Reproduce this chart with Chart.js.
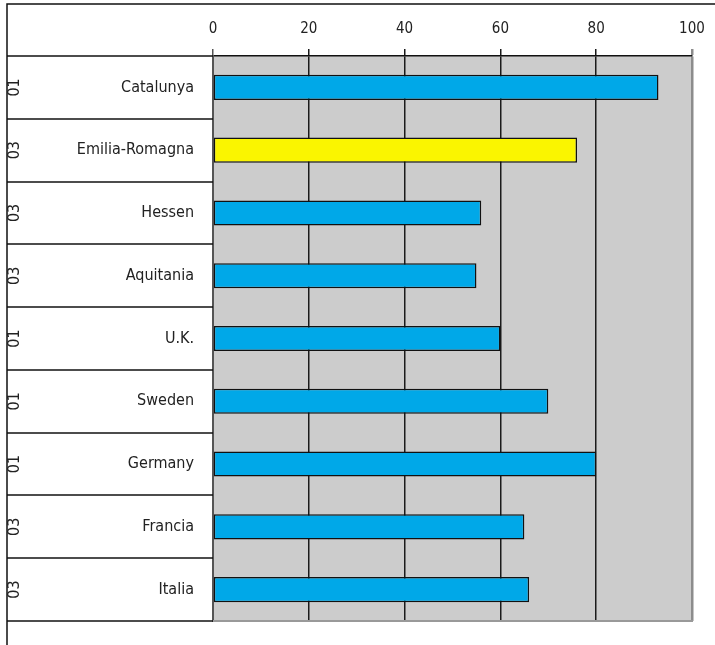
<!DOCTYPE html>
<html>
<head>
<meta charset="utf-8">
<script src="https://cdn.jsdelivr.net/npm/chart.js@4"></script>
<style>
  body { margin: 0; background: #fff; }
  #wrap { width: 715px; height: 645px; }
</style>
</head>
<body>
<div id="wrap"><canvas id="chart" width="715" height="645"></canvas></div>
<script>
const regions = ['Catalunya', 'Emilia-Romagna', 'Hessen', 'Aquitania', 'U.K.', 'Sweden', 'Germany', 'Francia', 'Italia'];
const years = ['01', '03', '03', '03', '01', '01', '01', '03', '03'];
const values = [93, 76, 56, 55, 60, 70, 80, 65, 66];
const xTicks = [0, 20, 40, 60, 80, 100];

const FONT = '"DejaVu Sans Condensed", "Liberation Sans Narrow", "Roboto", sans-serif';
const barColors = regions.map(r => r === 'Emilia-Romagna' ? '#faf500' : '#00a8e8');

// no extra label padding, so layout.padding alone places the plot
function noPad(scale) {
  scale.paddingTop = 0;
  scale.paddingBottom = 0;
  scale.paddingLeft = 0;
  scale.paddingRight = 0;
}

// grey plot area, left table lines and the year column
const tablePlugin = {
  id: 'table',
  beforeDraw(chart) {
    const { ctx, chartArea: a } = chart;
    ctx.save();
    ctx.fillStyle = '#cccccc';
    ctx.fillRect(a.left, a.top, a.right - a.left, a.bottom - a.top);
    ctx.restore();
  },
  afterDraw(chart) {
    const { ctx, chartArea: a } = chart;
    const y = chart.scales.y;
    const step = y.getPixelForValue(1) - y.getPixelForValue(0);
    ctx.save();
    ctx.strokeStyle = '#111';
    ctx.lineWidth = 1.5;
    // outer border top + left
    ctx.beginPath();
    ctx.moveTo(7, 645);
    ctx.lineTo(7, 4);
    ctx.lineTo(715, 4);
    ctx.stroke();
    // row separators in the label table
    for (let i = 0; i <= regions.length; i++) {
      const py = Math.round(y.getPixelForValue(i) - step / 2);
      ctx.beginPath();
      ctx.moveTo(7, py);
      ctx.lineTo(a.left, py);
      ctx.stroke();
    }
    // bottom edge of plot
    ctx.strokeStyle = '#999';
    ctx.lineWidth = 2;
    ctx.beginPath();
    ctx.moveTo(a.left, a.bottom);
    ctx.lineTo(a.right + 1, a.bottom);
    ctx.stroke();
    // years, rotated
    ctx.fillStyle = '#222';
    ctx.font = '16px ' + FONT;
    ctx.textAlign = 'center';
    ctx.textBaseline = 'middle';
    years.forEach((yr, i) => {
      ctx.save();
      ctx.translate(14.5, y.getPixelForValue(i));
      ctx.rotate(-Math.PI / 2);
      ctx.fillText(yr, 0, 0);
      ctx.restore();
    });
    ctx.restore();
  }
};

new Chart(document.getElementById('chart'), {
  type: 'bar',
  data: {
    labels: regions,
    datasets: [{
      data: values,
      backgroundColor: barColors,
      borderColor: '#111',
      borderWidth: 1.5,
      borderSkipped: false,
      barPercentage: 0.4,
      categoryPercentage: 1
    }]
  },
  options: {
    indexAxis: 'y',
    responsive: false,
    animation: false,
    layout: { padding: { top: 0, left: 0, right: 23, bottom: 24 } },
    plugins: { legend: { display: false }, tooltip: { enabled: false } },
    scales: {
      x: {
        position: 'top',
        min: 0,
        max: 100,
        afterBuildTicks(scale) { scale.ticks = xTicks.map(v => ({ value: v })); },
        afterFit(scale) { scale.height = 56; noPad(scale); },
        ticks: { font: { size: 15, family: FONT }, color: '#222', padding: 11, maxRotation: 0 },
        grid: {
          color: c => c.index === 0 ? '#555' : (c.index === xTicks.length - 1 ? '#8c8c8c' : '#1a1a1a'),
          lineWidth: c => c.index === xTicks.length - 1 ? 2.5 : 1.5,
          tickLength: 7,
          drawTicks: true
        },
        border: { display: true, color: '#111', width: 1.5 }
      },
      y: {
        afterFit(scale) { scale.width = 213; noPad(scale); },
        ticks: { font: { size: 16, family: FONT }, color: '#222', padding: 19 },
        grid: { display: false, drawTicks: false },
        border: { display: true, color: '#555', width: 2 }
      }
    }
  },
  plugins: [tablePlugin]
});
</script>
</body>
</html>
